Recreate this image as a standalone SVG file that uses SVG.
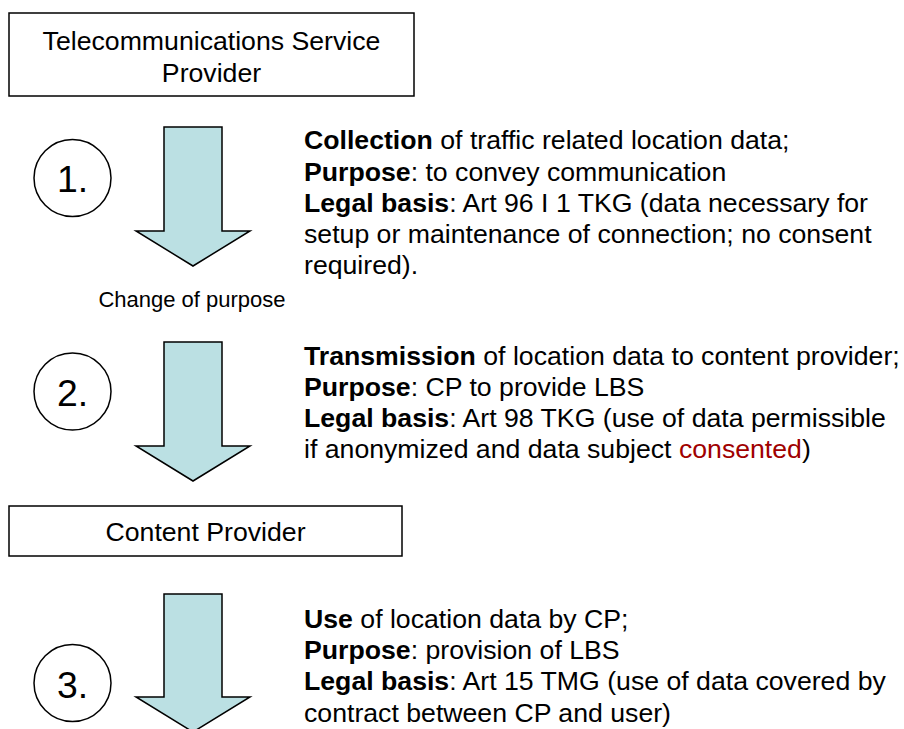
<svg xmlns="http://www.w3.org/2000/svg" width="904" height="729" viewBox="0 0 904 729">
<style>
text{font-family:"Liberation Sans",Arial,sans-serif;fill:#000}
.box{fill:#fff;stroke:#000;stroke-width:1.5}
.circ{fill:#fff;stroke:#000;stroke-width:1.5}
.arrow{fill:#BBE0E3;stroke:#000;stroke-width:1.5;stroke-linejoin:miter}
.lbl{font-size:26.67px}
.num{font-size:37.33px;text-anchor:middle}
.body{font-size:26.67px}
.b{font-weight:bold}
.red{fill:#A00000}
.small{font-size:22px;text-anchor:middle}
</style>
<rect width="904" height="729" fill="#fff"/>
<g id="tsp">
<rect class="box" x="9" y="13" width="405" height="83"/>
<text class="lbl" x="211.5" y="50" text-anchor="middle">Telecommunications Service</text>
<text class="lbl" x="211.5" y="82" text-anchor="middle">Provider</text>
</g>
<g id="cp">
<rect class="box" x="9" y="506" width="393" height="50"/>
<text class="lbl" x="205.5" y="541" text-anchor="middle">Content Provider</text>
</g>
<g id="connectors">
<path id="arrow1" class="arrow" d="M164,127 H222 V231 H250 L193,266 L136,231 H164 Z"/>
<path id="arrow2" class="arrow" d="M164,342 H222 V446 H250 L193,481 L136,446 H164 Z"/>
<path id="arrow3" class="arrow" d="M164,594 H222 V697 H250 L193,732 L136,697 H164 Z"/>
</g>
<g id="step1">
<circle class="circ" cx="72.5" cy="178" r="38.5"/>
<text class="num" x="72.5" y="192">1.</text>
</g>
<g id="step2">
<circle class="circ" cx="72.5" cy="391.5" r="38.5"/>
<text class="num" x="72.5" y="406">2.</text>
</g>
<g id="step3">
<circle class="circ" cx="72.5" cy="683" r="38.5"/>
<text class="num" x="72.5" y="697.5">3.</text>
</g>
<g id="change-label">
<text class="small" x="192" y="307">Change of purpose</text>
</g>
<g id="text1" class="body">
<text x="304" y="149"><tspan class="b">Collection</tspan> of traffic related location data;</text>
<text x="304" y="181"><tspan class="b">Purpose</tspan>: to convey communication</text>
<text x="304" y="212"><tspan class="b">Legal basis</tspan>: Art 96 I 1 TKG (data necessary for</text>
<text x="304" y="243">setup or maintenance of connection; no consent</text>
<text x="304" y="274">required).</text>
</g>
<g id="text2" class="body">
<text x="304" y="365"><tspan class="b">Transmission</tspan> of location data to content provider;</text>
<text x="304" y="396"><tspan class="b">Purpose</tspan>: CP to provide LBS</text>
<text x="304" y="427"><tspan class="b">Legal basis</tspan>: Art 98 TKG (use of data permissible</text>
<text x="304" y="458">if anonymized and data subject <tspan class="red">consented</tspan>)</text>
</g>
<g id="text3" class="body">
<text x="304" y="628"><tspan class="b">Use</tspan> of location data by CP;</text>
<text x="304" y="659"><tspan class="b">Purpose</tspan>: provision of LBS</text>
<text x="304" y="690"><tspan class="b">Legal basis</tspan>: Art 15 TMG (use of data covered by</text>
<text x="304" y="722">contract between CP and user)</text>
</g>
</svg>
